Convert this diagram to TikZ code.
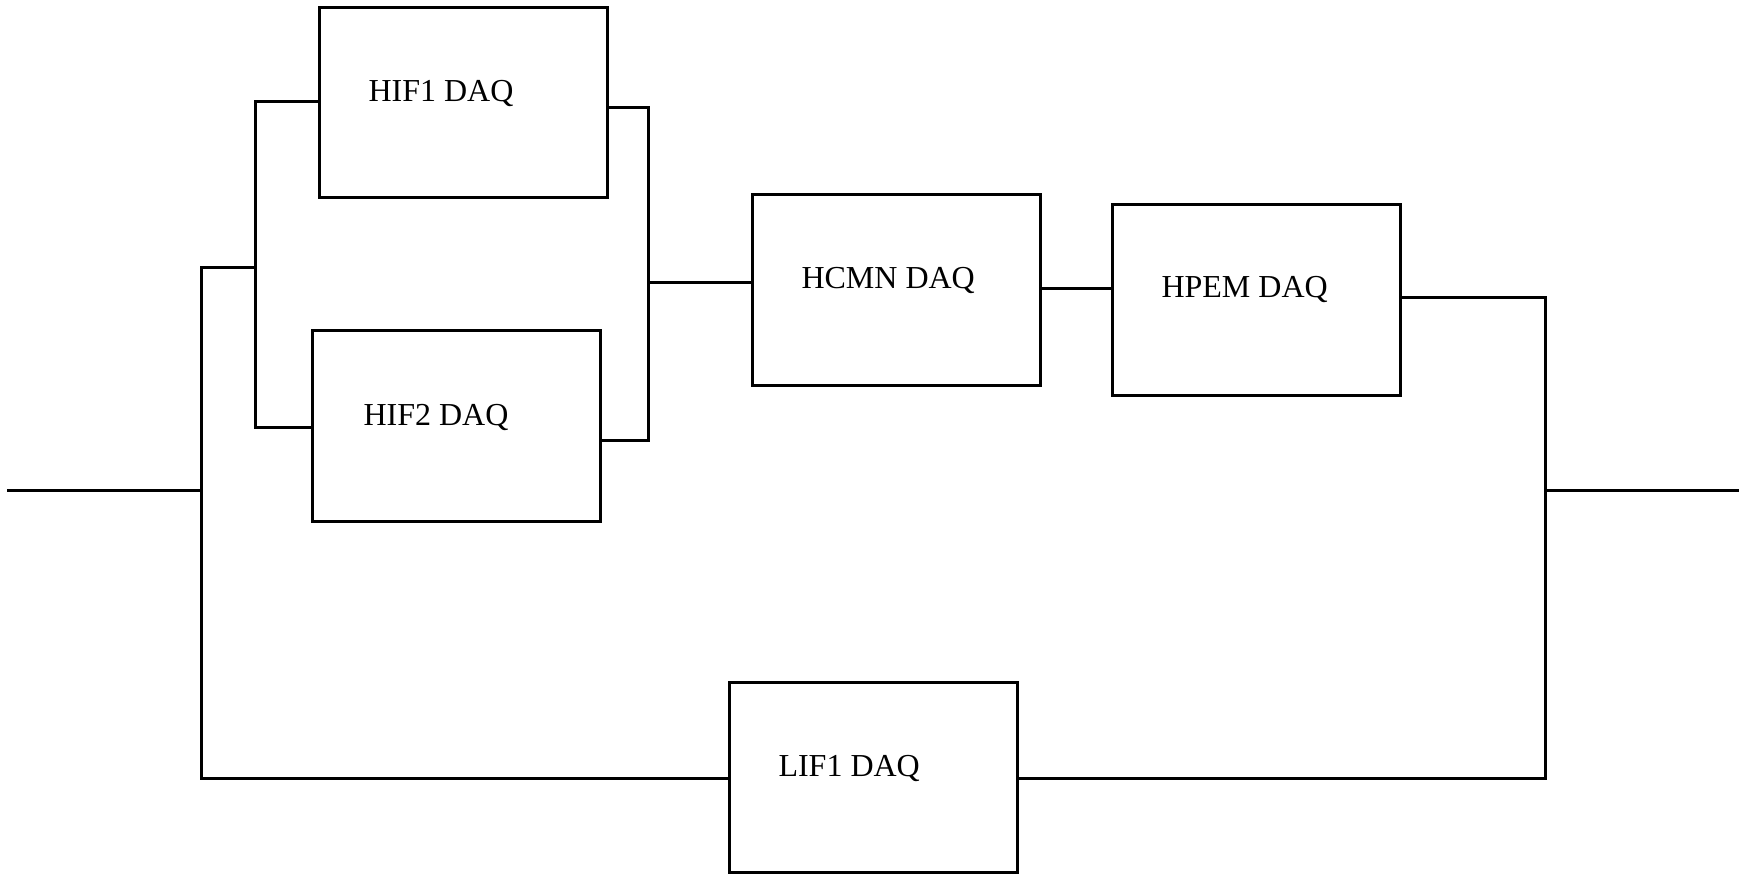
\documentclass[tikz,border=0pt]{standalone}
\usepackage{fontspec}
\setmainfont{Liberation Serif}
\begin{document}
\begin{tikzpicture}[x=1pt,y=-1pt,line width=3pt,
  daq/.style={draw,rectangle,inner sep=0pt,outer sep=0pt,minimum width=288pt,minimum height=190pt},
  lbl/.style={anchor=base west,inner sep=0pt,font=\fontsize{32}{38}\selectfont},
  wire/.style={draw,line cap=rect}]
\useasboundingbox (0,0) rectangle (1739,874);
% boxes
\node[daq] (hif1) at (463,103) {};
\node[daq] (hif2) at (456,426) {};
\node[daq] (hcmn) at (896,290) {};
\node[daq] (hpem) at (1256,300) {};
\node[daq] (lif1) at (873,777) {};
% labels
\node[lbl] (hif1t) at (367,102) {HIF1 DAQ};
\node[lbl] (hif2t) at (362,425) {HIF2 DAQ};
\node[lbl] (hcmnt) at (800,289) {HCMN DAQ};
\node[lbl] (hpemt) at (1160,298) {HPEM DAQ};
\node[lbl] (lif1t) at (777,776) {LIF1 DAQ};
% junction coordinates
\coordinate (in) at (8,490);
\coordinate (lb) at (201,490);
\coordinate (lt) at (201,268);
\coordinate (lbot) at (201,778);
\coordinate (st) at (255,268);
\coordinate (a1) at (255,102);
\coordinate (a2) at (255,427);
\coordinate (b1) at (648,108);
\coordinate (b2) at (648,440);
\coordinate (bm) at (648,283);
\coordinate (c1) at (1545,298);
\coordinate (cm) at (1545,490);
\coordinate (cbot) at (1545,778);
\coordinate (out) at (1739,490);
% wires
\draw[wire] (in) -- (lb);
\draw[wire] (lt) -- (lbot);
\draw[wire] (lt) -- (st);
\draw[wire] (hif1.west |- a1) -- (a1) -- (a2) -- (hif2.west |- a2);
\draw[wire] (hif1.east |- b1) -- (b1) -- (b2) -- (hif2.east |- b2);
\draw[wire] (bm) -- (hcmn.west |- bm);
\draw (hcmn.east |- 0,289) -- (hpem.west |- 0,289);
\draw[wire] (hpem.east |- c1) -- (c1) -- (cbot);
\draw (cm) -- (out);
\draw[wire] (lbot) -- (lif1.west |- lbot);
\draw[wire] (lif1.east |- cbot) -- (cbot);
\end{tikzpicture}
\end{document}
